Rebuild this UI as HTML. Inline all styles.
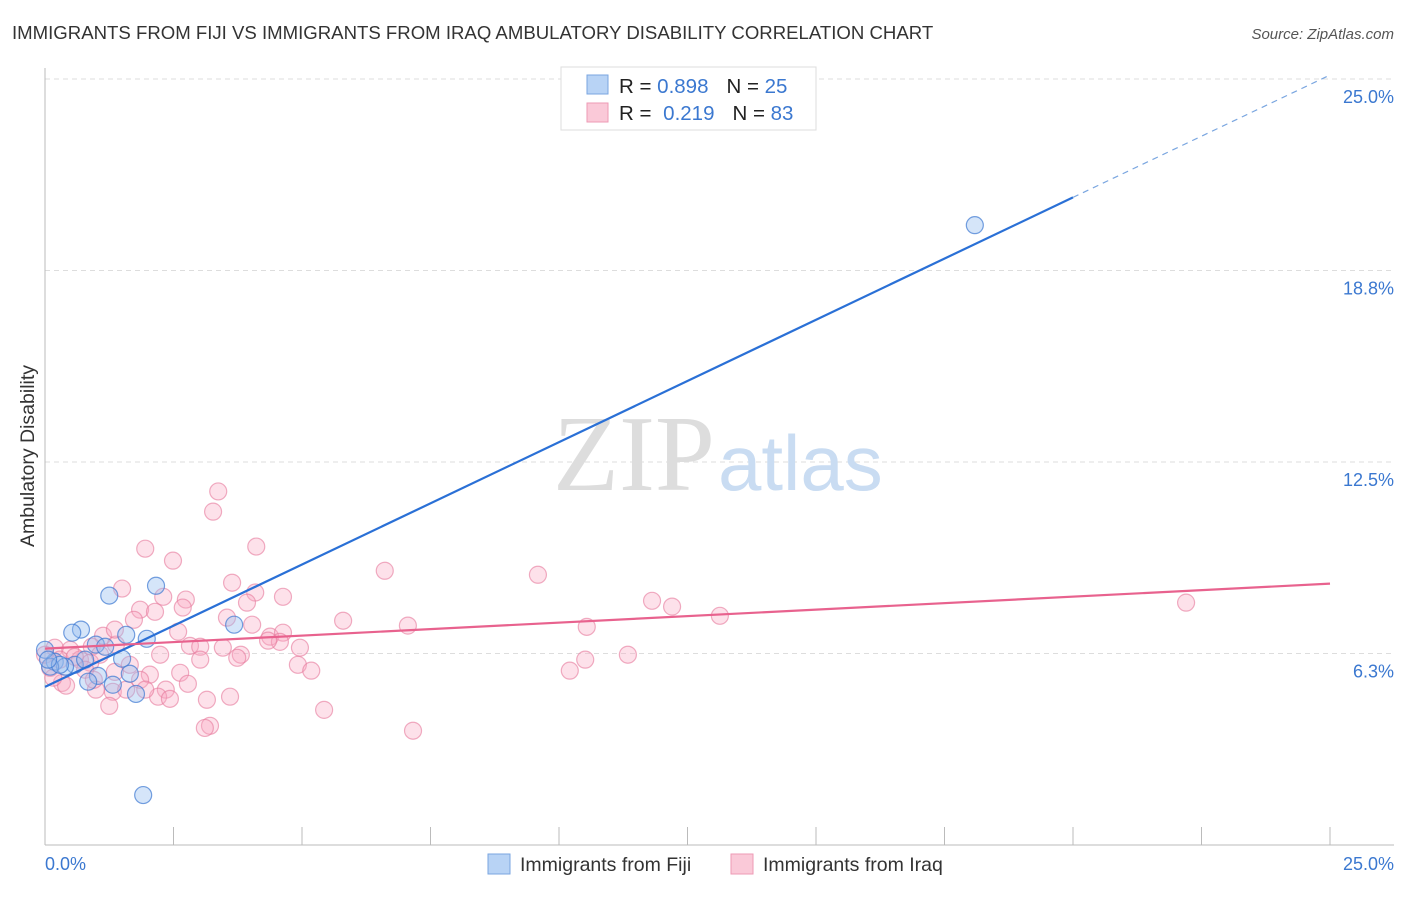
<!DOCTYPE html>
<html><head><meta charset="utf-8"><style>
body{margin:0;background:#fff;font-family:"Liberation Sans",sans-serif}
svg text{font-family:"Liberation Sans",sans-serif}
</style></head><body>
<svg id="c" width="1406" height="892" xmlns="http://www.w3.org/2000/svg">
<text x="12" y="39" font-size="18.6" fill="#333">IMMIGRANTS FROM FIJI VS IMMIGRANTS FROM IRAQ AMBULATORY DISABILITY CORRELATION CHART</text>
<text x="1394" y="39" font-size="15" fill="#555" font-style="italic" text-anchor="end">Source: ZipAtlas.com</text>
<g id="grid"></g>
<text x="715" y="490" font-size="108" fill="#ddd" text-anchor="end" style="font-family:'Liberation Serif',serif">ZIP</text>
<text x="718" y="490" font-size="78" fill="#c9dcf2">atlas</text>
<g id="pts"></g>
<g id="lines"></g>
<text x="34" y="456" font-size="19.5" fill="#333" text-anchor="middle" transform="rotate(-90 34 456)">Ambulatory Disability</text>
<text x="45" y="870" font-size="18" fill="#3b78d0">0.0%</text>
<text x="1394" y="870" font-size="18" fill="#3b78d0" text-anchor="end">25.0%</text>
<g>
<rect x="561" y="67" width="255" height="63" fill="#fff" stroke="#ddd"/>
<rect x="587" y="75" width="21" height="19" fill="#b8d3f5" stroke="#7aa6e0"/>
<rect x="587" y="103" width="21" height="19" fill="#fac9d8" stroke="#ee9ab5"/>
<text x="619" y="93" font-size="20.5" fill="#222">R = <tspan fill="#3b78d0">0.898</tspan><tspan dx="18">N = </tspan><tspan fill="#3b78d0">25</tspan></text>
<text x="619" y="120" font-size="20.5" fill="#222">R = <tspan dx="6" fill="#3b78d0">0.219</tspan><tspan dx="18">N = </tspan><tspan fill="#3b78d0">83</tspan></text>
</g>
<g>
<rect x="488" y="854" width="22" height="20" fill="#b8d3f5" stroke="#7aa6e0"/>
<text x="520" y="871" font-size="19.5" fill="#333">Immigrants from Fiji</text>
<rect x="731" y="854" width="22" height="20" fill="#fac9d8" stroke="#ee9ab5"/>
<text x="763" y="871" font-size="19.5" fill="#333">Immigrants from Iraq</text>
</g>
</svg>
<script>
const yTicks=[6.25,12.5,18.75,25];
const yTickLabels=["6.3%","12.5%","18.8%","25.0%"];
const xTicks=[0,2.5,5,7.5,10,12.5,15,17.5,20,22.5,25];
const fijiX=[18.09,2.16,1.25,3.68,0.70,0.53,1.58,1.98,0.99,1.17,1.50,0.19,0.58,0.39,0.10,1.03,1.65,0.84,1.32,1.77,1.91,0,0.29,0.78,0.06];
const fijiY=[20.23,8.46,8.14,7.19,7.03,6.93,6.86,6.73,6.54,6.47,6.08,5.98,5.88,5.82,5.82,5.52,5.59,5.33,5.23,4.93,1.63,6.37,5.88,6.05,6.05];
const iraqX=[3.37,3.27,1.95,2.49,4.11,6.61,9.59,1.50,3.64,4.63,4.09,2.30,2.74,1.85,2.14,2.68,3.93,11.81,12.20,13.13,22.20,5.80,3.54,7.06,1.73,2.59,4.03,10.54,1.13,1.38,0.49,2.82,3.02,4.38,4.63,4.57,4.34,4.96,3.46,3.81,3.74,11.34,10.51,10.21,4.92,5.18,0.19,0.91,0.68,0.88,0.10,2.04,2.63,2.78,2.35,0.33,0.41,0.99,1.32,1.58,2.20,2.43,1.85,3.15,3.60,1.25,5.43,3.21,3.11,7.16,0.29,0.58,0.78,1.07,0,1.65,1.36,0.95,0.16,1.95,2.24,1.36,3.02];
const iraqY=[11.54,10.88,9.67,9.28,9.74,8.95,8.82,8.37,8.56,8.10,8.24,8.10,8.01,7.68,7.61,7.75,7.91,7.97,7.78,7.48,7.91,7.32,7.42,7.16,7.35,6.96,7.19,7.12,6.83,6.54,6.37,6.50,6.47,6.80,6.93,6.63,6.67,6.44,6.44,6.21,6.11,6.21,6.05,5.69,5.88,5.69,6.44,6.47,6.05,5.95,5.78,5.56,5.62,5.26,5.07,5.29,5.20,5.07,5.00,5.07,4.84,4.77,5.39,4.74,4.84,4.54,4.41,3.89,3.82,3.73,6.05,6.14,5.72,6.21,6.21,5.88,5.65,5.39,5.46,5.07,6.21,7.03,6.05];
const fijiTrend=[5.16,25.13];
const iraqTrend=[6.41,8.53];
const NS="http://www.w3.org/2000/svg";
const sx=v=>45+v/25*1285;
const sy=v=>845-v/25*766;
function mk(tag,attrs,parent){const e=document.createElementNS(NS,tag);for(const k in attrs)e.setAttribute(k,attrs[k]);document.getElementById(parent).appendChild(e);return e;}
yTicks.forEach((t,i)=>{
 const l=mk('line',{x1:45,x2:1394,y1:sy(t),y2:sy(t),stroke:'#ddd','stroke-dasharray':'5,4'},'grid');
 
 
 const tx=mk('text',{x:1394,y:sy(t)+24,'font-size':18,fill:'#3b78d0','text-anchor':'end'},'grid');
 tx.textContent=yTickLabels[i];
 
 
});
const ax=mk('line',{x1:45,x2:1394,y1:845,y2:845,stroke:'#bbb'},'grid');


const ay=mk('line',{x1:45,x2:45,y1:68,y2:845,stroke:'#bbb'},'grid');


xTicks.forEach(t=>{
 const l=mk('line',{x1:sx(t),x2:sx(t),y1:827,y2:845,stroke:'#bbb'},'grid');
 
 
});
iraqX.forEach((v,i)=>{
 const c=mk('circle',{cx:sx(v),cy:sy(iraqY[i]),r:8.5,fill:'rgba(248,170,195,0.35)',stroke:'rgba(230,120,155,0.6)','stroke-width':1.2},'pts');
 
 
});
fijiX.forEach((v,i)=>{
 const c=mk('circle',{cx:sx(v),cy:sy(fijiY[i]),r:8.5,fill:'rgba(150,190,240,0.4)',stroke:'rgba(60,120,210,0.7)','stroke-width':1.2},'pts');
 
 
});
const fy=x=>fijiTrend[0]+(fijiTrend[1]-fijiTrend[0])*x/25;
const l1=mk('line',{x1:sx(0),y1:sy(fy(0)),x2:sx(20),y2:sy(fy(20)),stroke:'#2a70d6','stroke-width':2.2},'lines');


const l2=mk('line',{x1:sx(20),y1:sy(fy(20)),x2:sx(25),y2:sy(fy(25)),stroke:'#7aa6e0','stroke-width':1.2,'stroke-dasharray':'6,5'},'lines');


const l3=mk('line',{x1:sx(0),y1:sy(iraqTrend[0]),x2:sx(25),y2:sy(iraqTrend[1]),stroke:'#e8628e','stroke-width':2.2},'lines');


</script>
</body></html>
